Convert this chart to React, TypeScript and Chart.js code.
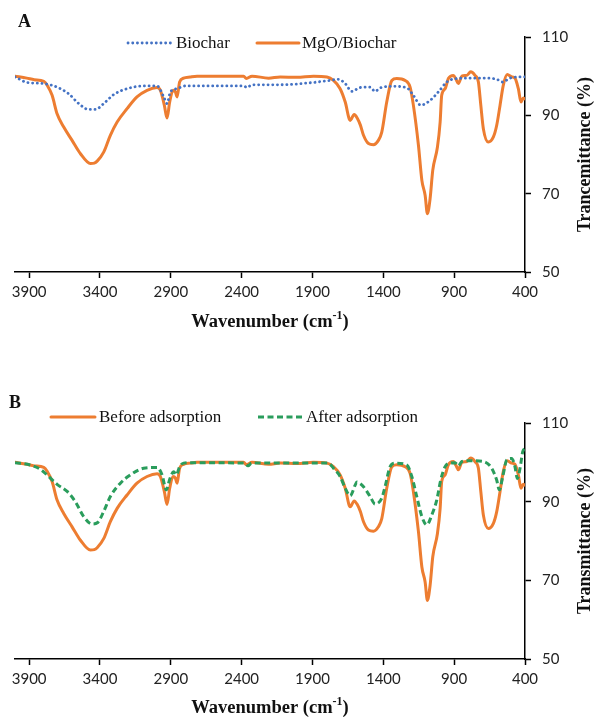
import React, { useEffect, useRef } from "react";
import { Chart, registerables } from "chart.js";

Chart.register(...registerables);

// ---------- data ----------
const WN_MGO = [4000, 3917, 3864, 3797, 3773, 3738, 3703, 3656, 3597, 3538, 3468, 3440, 3420, 3374, 3327, 3279, 3209, 3139, 3068, 2997, 2974, 2946, 2927, 2908, 2885, 2868, 2856, 2838, 2810, 2763, 2715, 2386, 2367, 2327, 2210, 2128, 2010, 1893, 1798, 1752, 1705, 1669, 1634, 1606, 1583, 1562, 1540, 1505, 1470, 1435, 1411, 1376, 1340, 1305, 1246, 1211, 1188, 1152, 1128, 1105, 1089, 1070, 1051, 1018, 999, 988, 964, 941, 905, 887, 870, 846, 811, 783, 753, 729, 712, 694, 659, 623, 600, 576, 553, 525, 494, 471, 447, 428, 412, 400];
const T_MGO = [100.0, 99.5, 99.1, 98.7, 97.7, 95.1, 90.4, 87.0, 83.6, 80.2, 77.7, 77.8, 78.3, 80.6, 84.9, 88.3, 91.7, 94.7, 96.4, 97.1, 96.4, 92.6, 89.3, 93.4, 96.4, 96.0, 94.7, 98.5, 99.5, 99.8, 100.0, 100.0, 99.4, 100.0, 99.5, 99.8, 99.7, 100.0, 99.8, 98.9, 96.8, 93.4, 88.7, 90.2, 89.2, 87.5, 84.9, 82.8, 82.5, 83.6, 85.7, 93.4, 98.9, 99.4, 98.9, 97.2, 92.6, 82.3, 73.4, 69.6, 64.9, 68.7, 76.0, 81.9, 88.3, 95.1, 96.8, 99.4, 100.2, 99.2, 98.1, 100.0, 100.2, 101.1, 100.2, 98.5, 92.6, 86.6, 83.2, 84.5, 87.4, 92.6, 97.7, 100.4, 99.8, 99.5, 96.8, 93.4, 94.4, 94.2];

const WN_BIOCHAR = [4000, 3914, 3797, 3703, 3621, 3550, 3480, 3432, 3374, 3303, 3209, 3092, 2997, 2950, 2927, 2903, 2856, 2800, 2386, 2362, 2327, 2128, 1893, 1781, 1717, 1669, 1622, 1564, 1493, 1458, 1423, 1329, 1234, 1188, 1136, 1070, 1011, 952, 882, 788, 694, 600, 557, 506, 412, 400];
const T_BIOCHAR = [99.8, 98.4, 98.1, 97.2, 95.5, 93.0, 91.5, 91.5, 93.0, 95.3, 96.8, 97.5, 97.5, 94.7, 93.0, 96.0, 96.8, 97.5, 97.5, 97.1, 97.8, 97.8, 98.4, 98.9, 99.2, 98.1, 96.1, 97.1, 97.2, 96.1, 97.0, 97.4, 97.0, 95.1, 92.6, 93.8, 96.0, 98.5, 99.4, 99.5, 99.5, 99.2, 98.5, 99.5, 99.8, 99.8];

const WN_AFTER = [4000, 3891, 3820, 3762, 3703, 3632, 3574, 3515, 3456, 3416, 3374, 3327, 3256, 3186, 3092, 2997, 2962, 2932, 2908, 2880, 2861, 2838, 2810, 2763, 2380, 2355, 2330, 1790, 1752, 1705, 1669, 1634, 1599, 1587, 1564, 1540, 1493, 1458, 1411, 1388, 1352, 1317, 1234, 1199, 1164, 1128, 1093, 1058, 1023, 995, 964, 929, 894, 870, 846, 788, 694, 635, 600, 581, 557, 529, 494, 471, 454, 435, 416, 400];
const T_AFTER = [99.9, 99.3, 98.2, 96.4, 94.4, 92.6, 90.0, 86.2, 84.3, 84.7, 87.5, 91.3, 94.7, 96.8, 98.5, 98.7, 96.8, 93.0, 95.7, 97.6, 96.8, 98.9, 99.8, 99.9, 99.8, 99.1, 99.8, 99.8, 98.5, 96.4, 93.4, 91.5, 94.2, 95.0, 94.6, 93.8, 91.3, 89.4, 90.9, 93.8, 98.9, 99.8, 99.3, 96.4, 91.3, 86.2, 84.1, 86.6, 90.4, 95.5, 98.9, 99.8, 99.9, 99.1, 100.2, 100.4, 100.2, 98.5, 95.5, 93.0, 96.4, 100.6, 101.0, 98.9, 95.9, 98.5, 102.7, 103.6];

const X_TICKS = [3900, 3400, 2900, 2400, 1900, 1400, 900, 400];
const Y_TICKS = [50, 70, 90, 110];

// ---------- style ----------
const W = 594;
const H = 359;
const ORANGE = "#ED7D31";
const BLUE = "#4472C4";
const GREEN = "#2A9D5C";
const SERIF = "'Liberation Serif', 'Times New Roman', serif";
const SANS = "Lato, 'Liberation Sans', Arial, sans-serif";

const pts = (xs: number[], ys: number[]) => xs.map((x, i) => ({ x, y: ys[i] }));

const orangeStyle = { borderColor: ORANGE, borderWidth: 3, borderDash: [] as number[], borderCapStyle: "round" };
const blueStyle = { borderColor: BLUE, borderWidth: 2.8, borderDash: [0.1, 4.6], borderCapStyle: "round" };
const greenStyle = { borderColor: GREEN, borderWidth: 3, borderDash: [6, 3.5], borderCapStyle: "butt" };

type PanelCfg = {
  letter: string;
  letterX: number;
  letterY: number;
  top: number;
  bottom: number;
  yTitle: string;
  xTitleY: number;
  legendY: number;
  legend: { ds: number; x0: number; x1: number; tx: number; text: string }[];
  datasets: any[];
};

function makeOverlay(cfg: PanelCfg) {
  return {
    id: "overlay" + cfg.letter,
    afterDraw(chart: any) {
      const ctx = chart.ctx as CanvasRenderingContext2D;
      const area = chart.chartArea;
      ctx.save();
      // panel letter
      ctx.fillStyle = "#111";
      ctx.font = `bold 18px ${SERIF}`;
      ctx.textBaseline = "middle";
      ctx.textAlign = "left";
      ctx.fillText(cfg.letter, cfg.letterX, cfg.letterY);

      // legend
      cfg.legend.forEach((it) => {
        const ds = chart.data.datasets[it.ds];
        ctx.save();
        ctx.strokeStyle = ds.borderColor;
        ctx.lineWidth = ds.borderWidth;
        ctx.setLineDash(ds.borderDash || []);
        ctx.lineCap = ds.borderCapStyle || "butt";
        ctx.beginPath();
        ctx.moveTo(it.x0, cfg.legendY);
        ctx.lineTo(it.x1, cfg.legendY);
        ctx.stroke();
        ctx.restore();
        ctx.fillStyle = "#111";
        ctx.font = `17px ${SERIF}`;
        ctx.textAlign = "left";
        ctx.textBaseline = "middle";
        ctx.fillText(it.text, it.tx, cfg.legendY + 1);
      });

      // x title with superscript
      const cx = (area.left + area.right) / 2;
      const mainFont = `bold 18.5px ${SERIF}`;
      const supFont = `bold 12px ${SERIF}`;
      const p1 = "Wavenumber (cm";
      const p2 = "-1";
      const p3 = ")";
      ctx.font = mainFont;
      const w1 = ctx.measureText(p1).width;
      const w3 = ctx.measureText(p3).width;
      ctx.font = supFont;
      const w2 = ctx.measureText(p2).width;
      let x = cx - (w1 + w2 + w3) / 2;
      ctx.textAlign = "left";
      ctx.textBaseline = "middle";
      ctx.font = mainFont;
      ctx.fillText(p1, x, cfg.xTitleY);
      x += w1;
      ctx.font = supFont;
      ctx.fillText(p2, x, cfg.xTitleY - 6);
      x += w2;
      ctx.font = mainFont;
      ctx.fillText(p3, x, cfg.xTitleY);

      // y title (rotated, reading bottom to top)
      ctx.save();
      ctx.translate(585, (area.top + area.bottom) / 2);
      ctx.rotate(-Math.PI / 2);
      ctx.font = `bold 18px ${SERIF}`;
      ctx.textAlign = "center";
      ctx.textBaseline = "middle";
      ctx.fillText(cfg.yTitle, 0, 0);
      ctx.restore();

      ctx.restore();
    },
  };
}

function Panel({ cfg }: { cfg: PanelCfg }) {
  const ref = useRef<HTMLCanvasElement>(null);
  useEffect(() => {
    if (!ref.current) return;
    const chart = new Chart(ref.current, {
      type: "line",
      data: { datasets: cfg.datasets },
      options: {
        responsive: false,
        animation: false,
        events: [],
        layout: { padding: { top: cfg.top, left: 15, right: 0, bottom: 0 } },
        elements: { point: { radius: 0 }, line: { fill: false } },
        plugins: { legend: { display: false }, tooltip: { enabled: false }, title: { display: false } },
        scales: {
          x: {
            type: "linear",
            reverse: true,
            min: 400,
            max: 4000,
            afterBuildTicks: (s: any) => {
              s.ticks = X_TICKS.map((v) => ({ value: v }));
            },
            afterFit: (s: any) => {
              s.height = H - cfg.bottom;
            },
            grid: {
              drawOnChartArea: false,
              drawTicks: true,
              tickLength: 6,
              tickWidth: 1.5,
              tickColor: "#000",
            },
            border: { display: true, color: "#000", width: 1.5 },
            ticks: {
              autoSkip: false,
              maxRotation: 0,
              padding: 5,
              color: "#222",
              font: { family: SANS, size: 15 },
              callback: (v: any) => String(v),
            },
          },
          y: {
            type: "linear",
            position: "right",
            min: 50,
            max: 110,
            afterBuildTicks: (s: any) => {
              s.ticks = Y_TICKS.map((v) => ({ value: v }));
            },
            afterFit: (s: any) => {
              s.width = W - 525;
            },
            grid: {
              drawOnChartArea: false,
              drawTicks: true,
              tickLength: 6,
              tickWidth: 1.5,
              tickColor: "#000",
            },
            border: { display: true, color: "#000", width: 1.5 },
            ticks: {
              padding: 11,
              color: "#222",
              font: { family: SANS, size: 15 },
              callback: (v: any) => String(v),
            },
          },
        },
      } as any,
      plugins: [makeOverlay(cfg)],
    });
    return () => chart.destroy();
  }, [cfg]);
  return <canvas ref={ref} width={W} height={H} style={{ display: "block", width: W, height: H }} />;
}

const panelA: PanelCfg = {
  letter: "A",
  letterX: 18,
  letterY: 22,
  top: 37,
  bottom: 272,
  yTitle: "Trancemittance (%)",
  xTitleY: 322,
  legendY: 43,
  legend: [
    { ds: 0, x0: 128, x1: 171, tx: 176, text: "Biochar" },
    { ds: 1, x0: 257, x1: 299, tx: 302, text: "MgO/Biochar" },
  ],
  datasets: [
    { label: "Biochar", data: pts(WN_BIOCHAR, T_BIOCHAR), ...blueStyle, cubicInterpolationMode: "monotone", order: 0 },
    { label: "MgO/Biochar", data: pts(WN_MGO, T_MGO), ...orangeStyle, cubicInterpolationMode: "monotone", order: 1 },
  ],
};

const panelB: PanelCfg = {
  letter: "B",
  letterX: 9,
  letterY: 44,
  top: 64,
  bottom: 300,
  yTitle: "Transmittance (%)",
  xTitleY: 349,
  legendY: 58,
  legend: [
    { ds: 0, x0: 51, x1: 95, tx: 99, text: "Before adsorption" },
    { ds: 1, x0: 258, x1: 303, tx: 306, text: "After adsorption" },
  ],
  datasets: [
    { label: "Before adsorption", data: pts(WN_MGO, T_MGO), ...orangeStyle, cubicInterpolationMode: "monotone", order: 1 },
    { label: "After adsorption", data: pts(WN_AFTER, T_AFTER), ...greenStyle, cubicInterpolationMode: "monotone", order: 0 },
  ],
};

export default function App() {
  return (
    <div style={{ position: "absolute", left: 0, top: 0, width: W, height: 718, background: "#fff" }}>
      <Panel cfg={panelA} />
      <Panel cfg={panelB} />
    </div>
  );
}
